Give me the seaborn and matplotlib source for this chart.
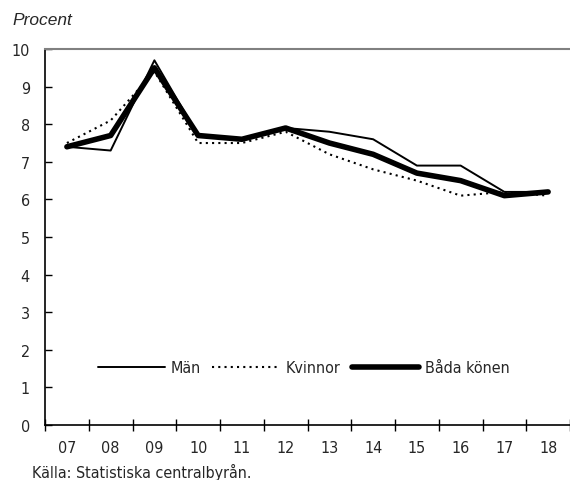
import numpy as np
import pandas as pd
import seaborn as sns
import matplotlib.pyplot as plt

# Data
years = ['07', '08', '09', '10', '11', '12', '13', '14', '15', '16', '17', '18']
man = [7.4, 7.3, 9.7, 7.7, 7.6, 7.9, 7.8, 7.6, 6.9, 6.9, 6.2, 6.2]
kvinnor = [7.5, 8.1, 9.4, 7.5, 7.5, 7.8, 7.2, 6.8, 6.5, 6.1, 6.2, 6.1]
bada = [7.4, 7.7, 9.5, 7.7, 7.6, 7.9, 7.5, 7.2, 6.7, 6.5, 6.1, 6.2]

sns.set_style('white')
plt.rcParams['font.family'] = ['DejaVu Sans']
plt.rcParams['font.stretch'] = 'condensed'

df = pd.DataFrame({'pos': np.arange(len(years)), 'Män': man, 'Kvinnor': kvinnor, 'Båda könen': bada})

fig = plt.figure(figsize=(5.70, 4.81), dpi=100)
ax = fig.add_axes([0.079, 0.1143, 0.921, 0.7817])

sns.lineplot(data=df, x='pos', y='Män', ax=ax, color='black', lw=1.4, label='Män')
sns.lineplot(data=df, x='pos', y='Kvinnor', ax=ax, color='black', lw=1.5, ls=(0, (1, 2)), label='Kvinnor')
sns.lineplot(data=df, x='pos', y='Båda könen', ax=ax, color='black', lw=4.0, label='Båda könen',
             solid_capstyle='round')

ax.set_xlim(-0.5, len(years) - 0.5)
ax.set_ylim(0, 10)
ax.set_yticks(range(0, 11))
ax.set_xticks(np.arange(-0.5, len(years), 1.0))
ax.set_xticklabels([])
ax.set_xticks(np.arange(len(years)), minor=True)
ax.set_xticklabels(years, minor=True)
ax.tick_params(axis='x', which='major', direction='inout', length=9, width=1, color='black', bottom=True)
ax.tick_params(axis='x', which='minor', length=0, pad=11, labelsize=11.5)
ax.tick_params(axis='y', direction='in', length=5, width=1, color='black', left=True, pad=11, labelsize=11.5)
ax.set_xlabel('')
ax.set_ylabel('')

for s in ['left', 'bottom']:
    ax.spines[s].set_color('black')
    ax.spines[s].set_linewidth(1.2)
ax.spines['top'].set_color('#808080')
ax.spines['top'].set_linewidth(1.5)
ax.spines['right'].set_visible(False)

ax.legend(loc='center', bbox_to_anchor=(0.493, 0.152), ncol=3, frameon=False, fontsize=11.5,
          handlelength=4.2, columnspacing=0.7, handletextpad=0.4)

fig.text(0.021, 0.957, 'Procent', fontsize=12.5, style='italic', family='Liberation Sans',
         stretch='normal', va='center')
fig.text(0.057, 0.018, 'Källa: Statistiska centralbyrån.', fontsize=11.5, va='center')

fig.savefig('out.png', dpi=100)
